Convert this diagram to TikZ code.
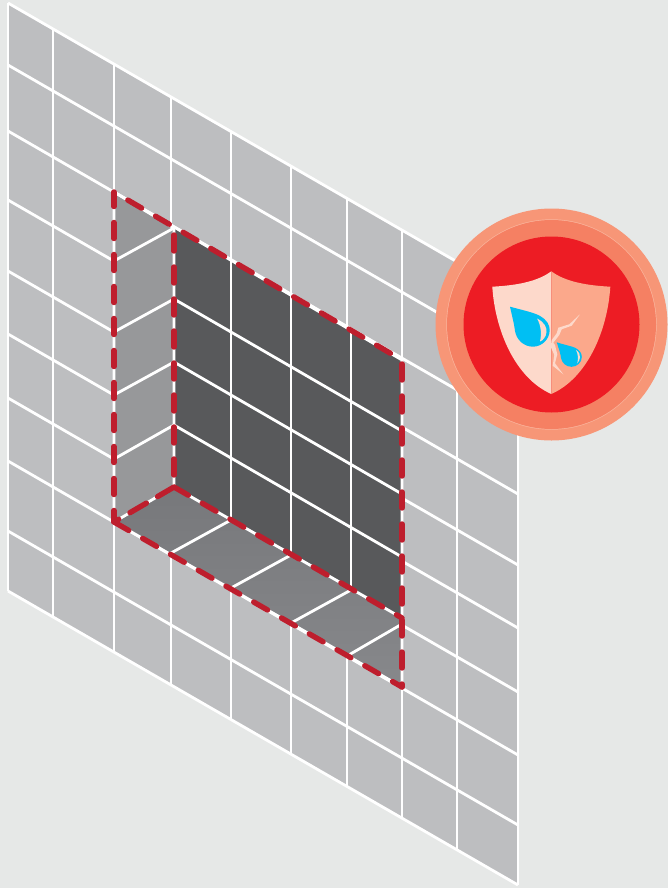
\documentclass[tikz,border=0pt]{standalone}
\definecolor{bgc}{HTML}{E6E8E7}
\definecolor{gridc}{HTML}{BDBEC0}
\definecolor{darkc}{HTML}{58595B}
\definecolor{wallA}{HTML}{929396}
\definecolor{wallB}{HTML}{97989A}
\definecolor{floorA}{HTML}{77787B}
\definecolor{floorB}{HTML}{87888B}
\definecolor{redc}{HTML}{BE1E2D}
\definecolor{ringA}{HTML}{F79677}
\definecolor{ringB}{HTML}{F58063}
\definecolor{ringL}{HTML}{FAB49C}
\definecolor{ringC}{HTML}{ED1C24}
\definecolor{shL}{HTML}{FDD9CB}
\definecolor{shR}{HTML}{FBA88B}
\definecolor{dropc}{HTML}{00BFF3}
\tikzset{
  gridline/.style={draw=white,line width=2.8pt},
  redash/.style={draw=redc,line width=5.4pt,line cap=round,dash pattern=on 16pt off 16pt},
}
\begin{document}
\begin{tikzpicture}[x=1pt,y=-1pt]
\useasboundingbox (0,0) rectangle (668,888);
\fill[bgc] (0,0) rectangle (668,888);
\def\sl{0.5765}
% grid sheet
\fill[gridc] (8,3) -- (518,297) -- (518,885) -- (8,591) -- cycle;
\foreach \x in {8,53,114,171,231,291,347,402,457,518}{
  \draw[gridline] (\x,{3+\sl*(\x-8)}) -- (\x,{591+\sl*(\x-8)});
}
\foreach \y in {3,65,131,200,271,334,398,461,531,591}{
  \draw[gridline] (8,\y) -- (518,{\y+294});
}
% recess corners
\coordinate (tl) at (114,192);
\coordinate (bl) at (114,522);
\coordinate (itl) at (174,228);
\coordinate (ibl) at (174,487);
\coordinate (tr) at (402,360);
\coordinate (mr) at (402,618);
\coordinate (br) at (402,687);
% faces
\fill[wallB] (tl) -- (itl) -- (ibl) -- (bl) -- cycle;
\shade[left color=floorA,right color=floorB,shading angle=0] (bl) -- (ibl) -- (mr) -- (br) -- cycle;
\fill[darkc] (itl) -- (tr) -- (mr) -- (ibl) -- cycle;
% recess lines: back wall
\foreach \x/\a/\b in {231/261/520,291/296/555,351/331/590}{
  \draw[gridline] (\x,\a) -- (\x,\b);
}
\foreach \a in {299,362,425}{
  \draw[gridline] (174,\a) -- (402,{\a+132});
}
% left wall
\foreach \a/\b in {261/228,332/299,395/362,459/425}{
  \draw[gridline] (114,\a) -- (174,\b);
}
% floor
\draw[gridline] (171,553) -- (231,520);
\draw[gridline] (231,588) -- (291,555);
\draw[gridline] (291,623) -- (351,590);
\draw[gridline] (347,656) -- (402,624);
% recess outline white
\draw[gridline] (tl) -- (tr) -- (br) -- (bl) -- cycle;
\draw[gridline] (bl) -- (ibl) -- (mr);
\draw[gridline] (tl) -- (itl) -- (ibl);
% dashes
\draw[redash,dash phase=16pt] (tl) -- (tr);
\draw[redash,dash phase=1.5pt] (tl) -- (bl);
\draw[redash,dash phase=25pt] (itl) -- (ibl);
\draw[redash,dash phase=28pt] (tr) -- (br);
\draw[redash,dash phase=31.5pt] (ibl) -- (mr);
\draw[redash,dash phase=31pt] (bl) -- (br);
\draw[redash,dash pattern=on 19pt off 13pt] (ibl) -- (bl);
% badge
\coordinate (c) at (551.5,324.5);
\fill[ringA] (c) circle (116);
\fill[ringL] (c) circle (105.2);
\fill[ringB] (c) circle (104.5);
\fill[ringC] (c) circle (88);
% shield
\fill[shL] (551.3,271.3) .. controls (537,282) and (515,285.5) .. (492.3,286.7)
  .. controls (495,330) and (515,378) .. (551.3,394) -- cycle;
\fill[shR] (551.3,271.3) .. controls (565.6,282) and (587.6,285.5) .. (610.3,286.7)
  .. controls (607.6,330) and (587.6,378) .. (551.3,394) -- cycle;
% crack
\fill[shL] (580,314.3) -- (571.7,325.7) -- (561.7,329.3) -- (559.3,335) -- (553.3,342.7) -- (555,345)
  -- (557.3,354.3) -- (555,363.3) -- (563.3,374.3) -- (552.7,365.7) -- (554.3,355) -- (550.7,346.7)
  -- (551.7,340) -- (556.7,333.3) -- (558.3,327.7) -- (569.3,324.3) -- cycle;
% big drop
\fill[dropc] (510,306.7) .. controls (522,310) and (534,312.5) .. (540,316)
  .. controls (547,320) and (549.7,325) .. (549.7,330)
  .. controls (549.7,339) and (542,346.7) .. (533,346.7)
  .. controls (524,346.7) and (516.5,340) .. (515,331)
  .. controls (514,323) and (512,316) .. (510,306.7) -- cycle;
\fill[shL] (537,318.5) .. controls (544,322) and (547,327) .. (546.5,332)
  .. controls (546,337) and (543,340.5) .. (540,341.5)
  .. controls (541.5,335) and (541.5,326) .. (537,318.5) -- cycle;
% small drop
\fill[dropc] (556.7,342.3) .. controls (565,345) and (571,346) .. (575,347.7)
  .. controls (579.5,350) and (581.8,353) .. (581.8,357)
  .. controls (581.8,362.5) and (577,366.8) .. (571.5,366.8)
  .. controls (566,366.8) and (562,363) .. (561,358)
  .. controls (560.5,353) and (558.5,348) .. (556.7,342.3) -- cycle;
\fill[shL] (576,350) .. controls (579,352) and (580.3,354.5) .. (580,357.5)
  .. controls (579.6,360) and (578.6,362) .. (577.3,363.3)
  .. controls (578.3,358.5) and (578.2,354) .. (576,350) -- cycle;
\end{tikzpicture}
\end{document}
